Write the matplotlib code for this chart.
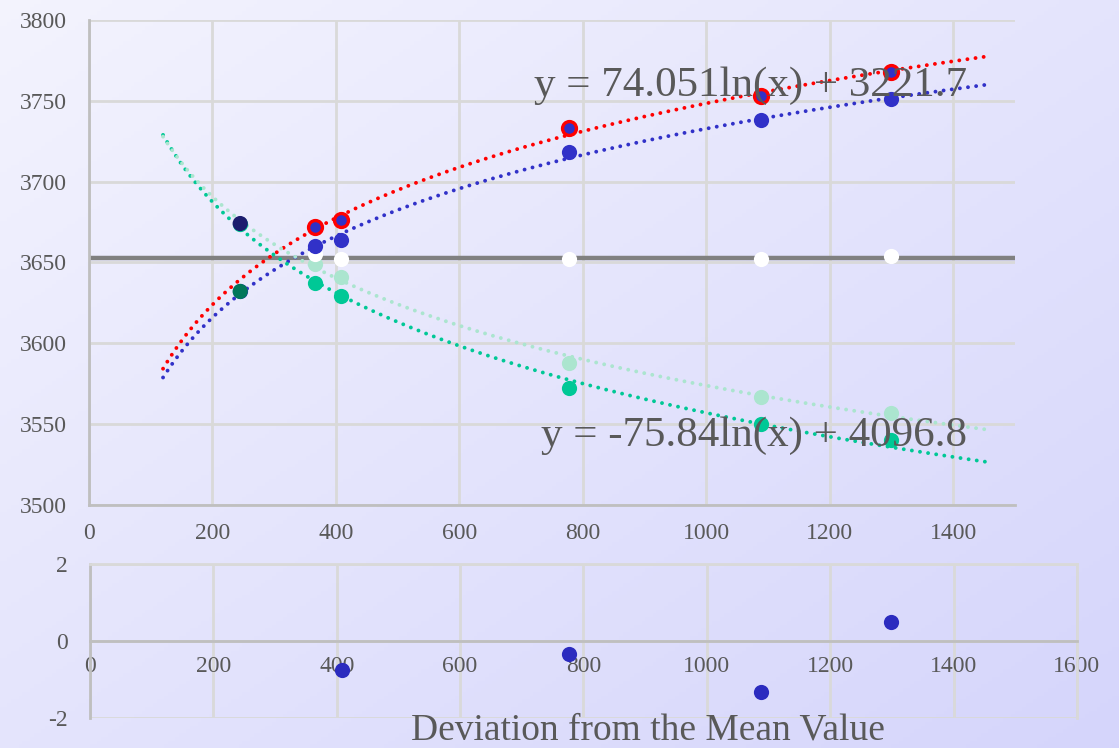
import numpy as np
import matplotlib
matplotlib.use("Agg")
import matplotlib.pyplot as plt

# values
DEVIATION = [245, 366, 409, 777, 1088, 1299]
BLUE_Y = [3632, 3660, 3664, 3718, 3738, 3751]
RED_Y = [np.nan, 3672, 3676, 3733, 3753, 3768]
TEAL_Y = [3674, 3637, 3629, 3572, 3550, 3540]
MINT_Y = [3674, 3649, 3641, 3588, 3567, 3557]
MEAN_Y = [np.nan, 3655, 3652, 3652, 3652, 3654]
MEAN_LEVEL = 3653

# the first column shows two overlapping points in darker colours
OVERLAP_X = [245, 245]
OVERLAP_Y = [3674, 3632]
OVERLAP_COLORS = ["#1c1c6e", "#00775a"]

RESID_X = [409, 777, 1088, 1299]
RESID_Y = [-0.75, -0.34, -1.32, 0.49]

BLUE_EQ = "y = 74.051ln(x) + 3221.7"
MINT_EQ = "y = -75.84ln(x) + 4096.8"
XLABEL = "Deviation from the Mean Value"

TOP_XTICKS = [0, 200, 400, 600, 800, 1000, 1200, 1400]
TOP_YTICKS = [3500, 3550, 3600, 3650, 3700, 3750, 3800]
BOT_XTICKS = [0, 200, 400, 600, 800, 1000, 1200, 1400, 1600]
BOT_YTICKS = [-2, 0, 2]

TEXT = "#595959"
GRID = "#d9d9d9"
SPINE = "#bfbfbf"
RED = "#ff0000"
BLUE = "#3131c8"
TEAL = "#00c896"
MINT = "#abe5cf"

plt.rcParams["font.family"] = ["Liberation Serif", "DejaVu Serif"]
plt.rcParams["axes.unicode_minus"] = False

fig = plt.figure(figsize=(11.19, 7.48), dpi=100)

# diagonal lavender gradient behind everything
bg = fig.add_axes([0, 0, 1, 1], zorder=-10)
u, v = np.meshgrid(np.linspace(0, 1, 300), np.linspace(0, 1, 200))
t = (u + v) / 2
c0 = np.array([0.955, 0.955, 0.995])
c1 = np.array([0.835, 0.835, 0.985])
img = c0[None, None, :] + (c1 - c0)[None, None, :] * t[:, :, None]
bg.imshow(img, aspect="auto", extent=[0, 1, 0, 1])
bg.axis("off")


def log_trend(ax, x, y, color):
    x = np.asarray(x, float)
    y = np.asarray(y, float)
    ok = ~np.isnan(y)
    a, b = np.polyfit(np.log(x[ok]), y[ok], 1)
    xs = np.linspace(120, 1460, 300)
    ax.plot(xs, a * np.log(xs) + b, color=color, lw=2.8,
            linestyle=(0, (0.01, 2.1)), dash_capstyle="round", zorder=3)


# ---- main chart ----
ax = fig.add_axes([0.0795, 0.325, 0.8275, 0.6485])
ax.set_facecolor("none")
ax.set_xlim(0, 1500)
ax.set_ylim(3500, 3800)
ax.set_xticks(TOP_XTICKS)
ax.set_yticks(TOP_YTICKS)
ax.grid(True, color=GRID, lw=2)
ax.set_axisbelow(True)
for s in ["top", "right"]:
    ax.spines[s].set_visible(False)
for s in ["left", "bottom"]:
    ax.spines[s].set_color(SPINE)
    ax.spines[s].set_linewidth(2)
ax.tick_params(length=0, labelsize=17, labelcolor=TEXT)
ax.tick_params(axis="y", pad=16)
ax.tick_params(axis="x", pad=13)

ax.axhline(MEAN_LEVEL, color="#808080", lw=3.2, zorder=2)

log_trend(ax, DEVIATION, RED_Y, RED)
log_trend(ax, DEVIATION, BLUE_Y, BLUE)
log_trend(ax, DEVIATION, TEAL_Y, TEAL)
log_trend(ax, DEVIATION, MINT_Y, MINT)

ax.scatter(DEVIATION, MINT_Y, s=120, color=MINT, zorder=4, lw=0)
ax.scatter(DEVIATION, TEAL_Y, s=120, color=TEAL, zorder=4, lw=0)
ax.scatter(DEVIATION, MEAN_Y, s=120, color="white", zorder=4, lw=0)
ax.scatter(DEVIATION, BLUE_Y, s=120, color=BLUE, zorder=5, lw=0)
ax.scatter(DEVIATION, RED_Y, s=100, facecolor=BLUE, edgecolor=RED, lw=2.4, zorder=5)
ax.scatter(OVERLAP_X, OVERLAP_Y, s=120, c=OVERLAP_COLORS, zorder=6, lw=0)

ax.text(1072, 3759, BLUE_EQ, fontsize=31, color=TEXT, ha="center", va="center", zorder=7)
ax.text(1077, 3543, MINT_EQ, fontsize=31, color=TEXT, ha="center", va="center", zorder=7)

# ---- residual chart ----
ax2 = fig.add_axes([0.0804, 0.040, 0.8820, 0.206])
ax2.set_facecolor("none")
ax2.set_xlim(0, 1600)
ax2.set_ylim(-2, 2)
ax2.set_xticks(BOT_XTICKS)
ax2.set_yticks(BOT_YTICKS)
ax2.grid(True, color=GRID, lw=2)
ax2.set_axisbelow(True)
ax2.spines["bottom"].set_position(("data", 0))
ax2.spines["bottom"].set_color(SPINE)
ax2.spines["bottom"].set_linewidth(2)
ax2.spines["left"].set_color(SPINE)
ax2.spines["left"].set_linewidth(2)
for s in ["top", "right"]:
    ax2.spines[s].set_color(GRID)
    ax2.spines[s].set_linewidth(2)
ax2.tick_params(length=0, labelsize=17, labelcolor=TEXT)
ax2.tick_params(axis="y", pad=16)
ax2.tick_params(axis="x", pad=11)

ax2.scatter(RESID_X, RESID_Y, s=120, color="#2b2bbf", zorder=5, lw=0)

fig.text(0.579, 0.024, XLABEL, fontsize=27, color=TEXT, ha="center", va="center")

fig.savefig("out.png", dpi=100)
